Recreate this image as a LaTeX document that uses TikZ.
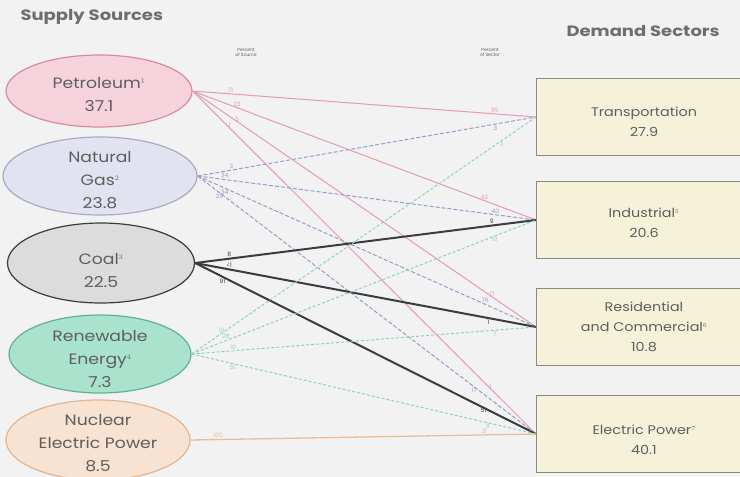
\documentclass[tikz,border=0pt]{standalone}
\usepackage{fontspec}
\setmainfont{Poppins}
\newfontfamily\hdrfont[FakeStretch=1.2]{Poppins}
\newfontfamily\wfont[FakeStretch=1.15]{Poppins}
\usetikzlibrary{shapes.geometric}
\newcommand\ctext[2]{\raisebox{#1}[0pt][0pt]{\begin{tabular}{@{}c@{}}#2\end{tabular}}}
\definecolor{bg}{HTML}{F2F2F2}
\definecolor{txt}{HTML}{5E5E5E}
\definecolor{petF}{HTML}{F6D3DC}\definecolor{petD}{HTML}{D88A9E}
\definecolor{gasF}{HTML}{E2E3F1}\definecolor{gasD}{HTML}{A9AACB}
\definecolor{coalF}{HTML}{DCDCDC}\definecolor{coalD}{HTML}{3C3C3C}
\definecolor{renF}{HTML}{A9E2CD}\definecolor{renD}{HTML}{5FB294}
\definecolor{nucF}{HTML}{F8E2D2}\definecolor{nucD}{HTML}{E2B592}
\definecolor{boxF}{HTML}{F6F2DA}\definecolor{boxD}{HTML}{8A8A80}
\definecolor{petL}{HTML}{E59AB6}\definecolor{gasL}{HTML}{9A9CC8}
\definecolor{renL}{HTML}{8FD4B4}\definecolor{nucL}{HTML}{E9BD98}
\tikzset{
  src/.style={ellipse,draw,line width=1.2pt,minimum width=188pt,minimum height=76pt,text=txt,font=\wfont\fontsize{15}{23}\selectfont,inner sep=0pt},
  sec/.style={rectangle,draw=boxD,fill=boxF,line width=1pt,minimum width=215pt,minimum height=77pt,text=txt,font=\wfont\fontsize{12.5}{20}\selectfont,anchor=west,inner sep=0pt},
  hdr/.style={text=txt!90,font=\hdrfont\bfseries\fontsize{15}{17}\selectfont,anchor=west},
  sub/.style={text=txt,font=\fontsize{4.5}{5}\selectfont,align=center},
  lab/.style={font=\fontsize{6}{6}\selectfont,inner sep=1pt},
  petline/.style={draw=petL,line width=1pt},
  gasline/.style={draw=gasL,line width=1pt,dash pattern=on 4pt off 2pt},
  coalline/.style={draw=coalD,line width=2pt},
  renline/.style={draw=renL,line width=1pt,dash pattern=on 3pt off 2pt},
  nucline/.style={draw=nucL,line width=1.3pt}
}
\begin{document}
\begin{tikzpicture}[x=1pt,y=-1pt]
\useasboundingbox[fill=bg] (0,0) rectangle (740,477);
\node[hdr] (hs) at (17,17) {Supply Sources};
\node[hdr] (hd) at (563,31) {Demand Sectors};
\node[sub] (ps) at (246,52) {Percent\\of Source};
\node[sub] (pr) at (490,52) {Percent\\of Sector};
\node[src,fill=petF,draw=petD,minimum width=186pt,minimum height=72pt] (pet) at (99,91) {\ctext{-8.3pt}{Petroleum$^{\scriptscriptstyle 1}$\\37.1}};
\node[src,fill=gasF,draw=gasD,minimum width=194pt,minimum height=78pt] (gas) at (100,176) {\ctext{-8.8pt}{Natural\\Gas$^{\scriptscriptstyle 2}$\\23.8}};
\node[src,fill=coalF,draw=coalD,minimum width=187pt,minimum height=80pt] (coal) at (101,263) {\ctext{-12pt}{Coal$^{\scriptscriptstyle 3}$\\22.5}};
\node[src,fill=renF,draw=renD,minimum width=182pt,minimum height=78pt] (ren) at (100,354) {\ctext{-9.5pt}{Renewable\\Energy$^{\scriptscriptstyle 4}$\\7.3}};
\node[src,fill=nucF,draw=nucD,minimum width=184pt,minimum height=80pt] (nuc) at (98,440) {\ctext{-7.8pt}{Nuclear\\Electric Power\\8.5}};
\node[sec] (tr) at (536,117) {\ctext{-8.5pt}{Transportation\\27.9}};
\node[sec] (ind) at (536,220) {\ctext{-6.5pt}{Industrial$^{\scriptscriptstyle 5}$\\20.6}};
\node[sec] (rc) at (536,327) {\ctext{-3.5pt}{Residential\\and Commercial$^{\scriptscriptstyle 6}$\\10.8}};
\node[sec] (ep) at (536,434) {\ctext{-9.5pt}{Electric Power$^{\scriptscriptstyle 7}$\\40.1}};
% petroleum
\draw[petline] (pet.east) -- node[lab,text=petL,pos=0.11,above]{71} node[lab,text=petL,pos=0.88,above]{95} (tr.west);
\draw[petline] (pet.east) -- node[lab,text=petL,pos=0.13,above]{23} node[lab,text=petL,pos=0.85,above]{42} (ind.west);
\draw[petline] (pet.east) -- node[lab,text=petL,pos=0.12,right]{5} node[lab,text=petL,pos=0.86,right]{17} (rc.west);
\draw[petline] (pet.east) -- node[lab,text=petL,pos=0.1,right]{1} node[lab,text=petL,pos=0.86,right]{1} (ep.west);
% natural gas
\draw[gasline] (gas.east) -- node[lab,text=gasL,pos=0.1,above]{3} node[lab,text=gasL,pos=0.88,below]{3} (tr.west);
\draw[gasline] (gas.east) -- node[lab,text=gasL,pos=0.08,above]{34} node[lab,text=gasL,pos=0.88,above]{40} (ind.west);
\draw[gasline] (gas.east) -- node[lab,text=gasL,pos=0.08,below]{34} node[lab,text=gasL,pos=0.85,above]{76} (rc.west);
\draw[gasline] (gas.east) -- node[lab,text=gasL,pos=0.08,left]{29} node[lab,text=gasL,pos=0.83,left]{17} (ep.west);
% coal
\draw[coalline] (coal.east) -- node[lab,text=coalD,pos=0.1,above]{8} node[lab,text=coalD,pos=0.87,above]{9} (ind.west);
\draw[coalline] (coal.east) -- node[lab,text=coalD,pos=0.1,above]{<1} node[lab,text=coalD,pos=0.86,below]{1} (rc.west);
\draw[coalline] (coal.east) -- node[lab,text=coalD,pos=0.08,below]{91} node[lab,text=coalD,pos=0.86,left]{51} (ep.west);
% renewable
\draw[renline] (ren.east) -- node[lab,text=renL,pos=0.1,left]{10} node[lab,text=renL,pos=0.9,below]{3} (tr.west);
\draw[renline] (ren.east) -- node[lab,text=renL,pos=0.1,above]{28} node[lab,text=renL,pos=0.88,below]{10} (ind.west);
\draw[renline] (ren.east) -- node[lab,text=renL,pos=0.12,above]{10} node[lab,text=renL,pos=0.88,below]{7} (rc.west);
\draw[renline] (ren.east) -- node[lab,text=renL,pos=0.12,below]{51} node[lab,text=renL,pos=0.86,below]{9} (ep.west);
% nuclear
\draw[nucline] (nuc.east) -- node[lab,text=nucL,pos=0.08,above]{100} node[lab,text=nucL,pos=0.85,above]{21} (ep.west);
\end{tikzpicture}
\end{document}
